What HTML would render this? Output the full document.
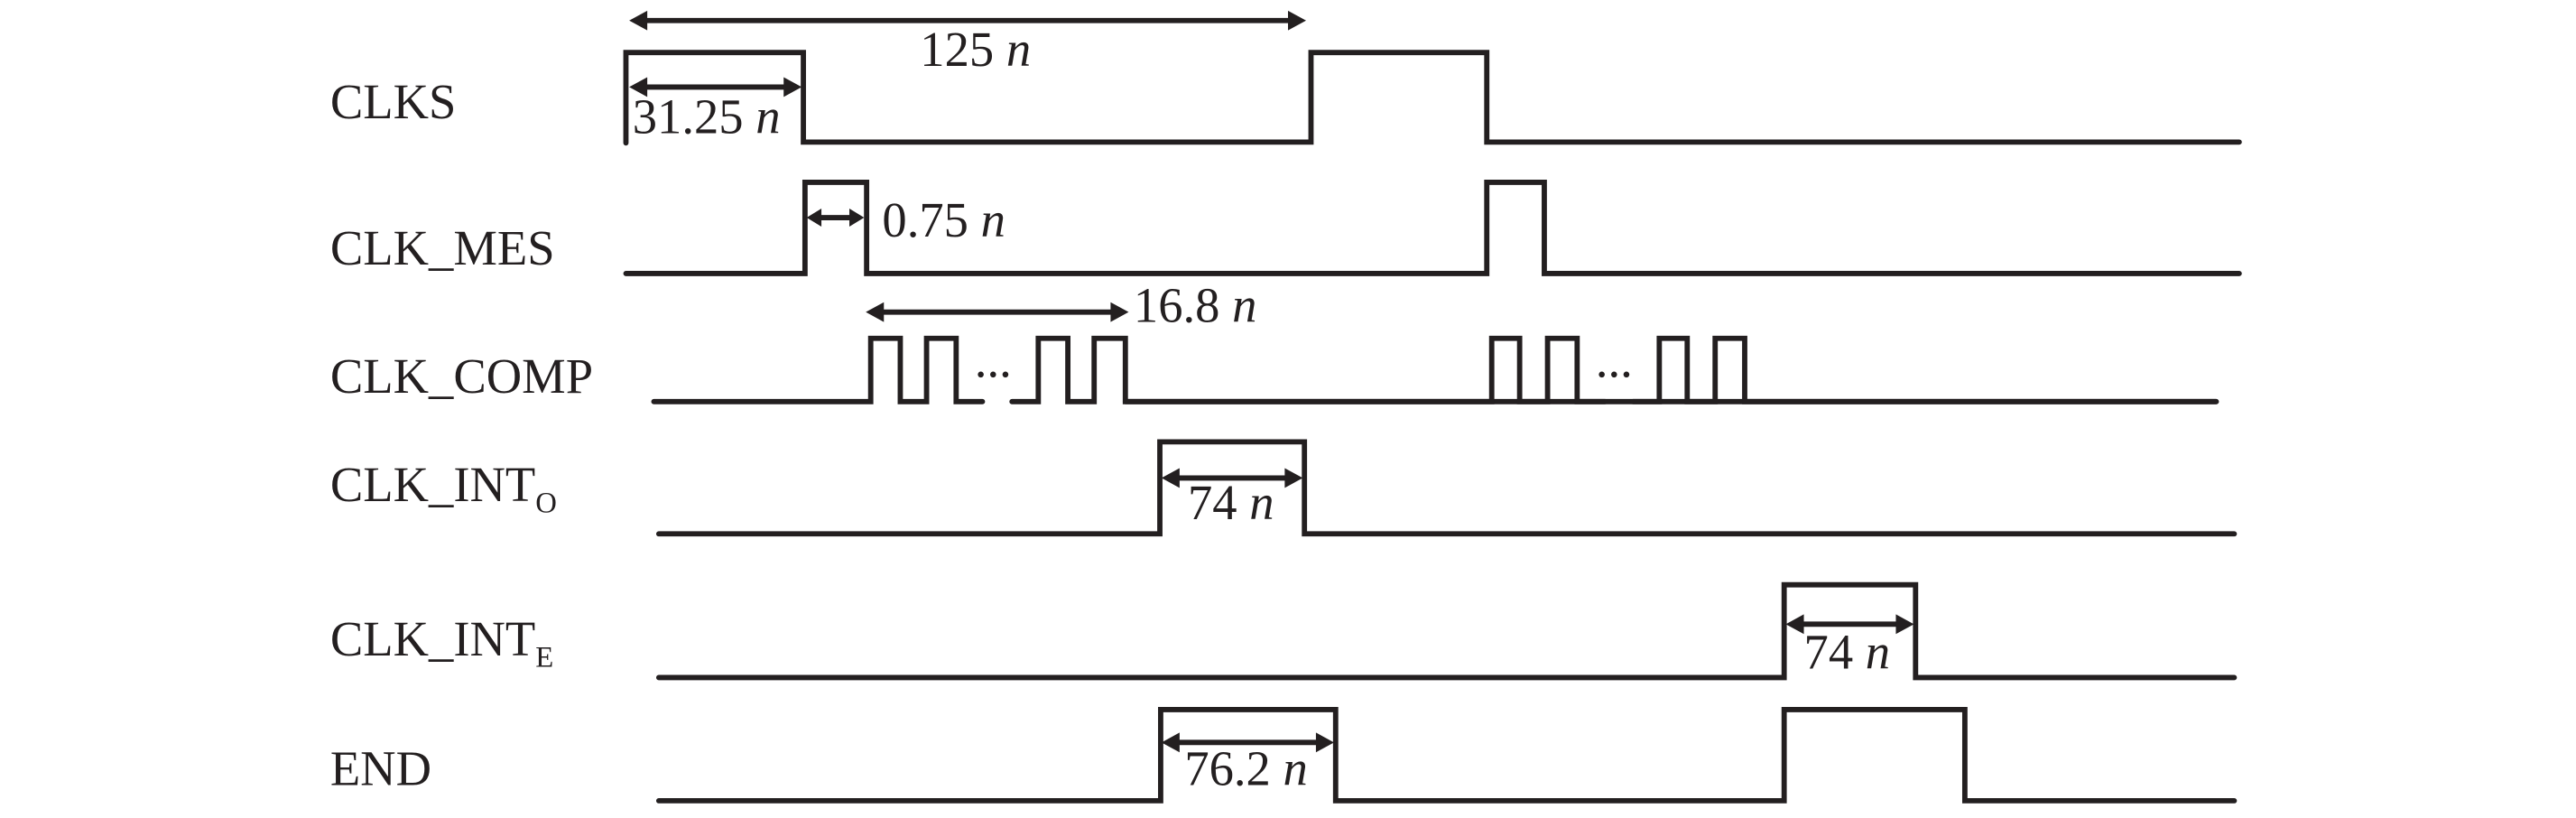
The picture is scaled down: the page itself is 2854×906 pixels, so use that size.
<!DOCTYPE html>
<html><head><meta charset="utf-8"><style>
html,body{margin:0;padding:0;background:#fff;}
svg{display:block;}
text{font-family:"Liberation Serif",serif;font-size:30px;fill:#231f20;}
.i{font-style:italic;}
</style></head><body>
<svg width="2854" height="906" viewBox="0 0 1568 498" preserveAspectRatio="none" xmlns="http://www.w3.org/2000/svg">
<g fill="none" stroke="#231f20" stroke-width="3.2" stroke-linejoin="miter" stroke-linecap="round">
<polyline points="381,87 381,32 489,32 489,86.5 798,86.5 798,32 905,32 905,86.5 1363,86.5"/>
<polyline points="381,166.5 490,166.5 490,111 527.5,111 527.5,166.5 905,166.5 905,111 940,111 940,166.5 1363,166.5"/>
<polyline points="398,244.5 530,244.5 530,206 548,206 548,244.5 564,244.5 564,206 582,206 582,244.5 598,244.5"/>
<polyline points="616,244.5 632,244.5 632,206 650,206 650,244.5 666,244.5 666,206 685,206 685,244.5 1349,244.5"/>
<polyline points="685,244.5 908,244.5 908,206 925,206 925,244.5 942,244.5 942,206 960,206 960,244.5 977,244.5"/>
<polyline points="994,244.5 1010,244.5 1010,206 1027,206 1027,244.5 1044,244.5 1044,206 1062,206 1062,244.5 1349,244.5"/>
<polyline points="401,325 706,325 706,269 794,269 794,325 1360,325"/>
<polyline points="401,412.5 1086,412.5 1086,356 1166,356 1166,412.5 1360,412.5"/>
<polyline points="401,487.5 706.5,487.5 706.5,432 813,432 813,487.5 1086,487.5 1086,432 1196,432 1196,487.5 1360,487.5"/>
<line x1="390" y1="12.5" x2="786" y2="12.5"/>
<line x1="390" y1="53" x2="480" y2="53"/>
<line x1="498" y1="132.5" x2="520" y2="132.5"/>
<line x1="536" y1="190" x2="678" y2="190"/>
<line x1="714" y1="291" x2="786" y2="291"/>
<line x1="1094" y1="380" x2="1158" y2="380"/>
<line x1="714" y1="452" x2="805" y2="452"/>
</g>
<g fill="#231f20">
<polygon points="383,12.5 394,6.5 394,18.5"/><polygon points="795,12.5 784,6.5 784,18.5"/>
<polygon points="383,53 394,47 394,59"/><polygon points="488,53 477,47 477,59"/>
<polygon points="491,132.5 500,127 500,138"/><polygon points="526,132.5 517,127 517,138"/>
<polygon points="527,190 538,184 538,196"/><polygon points="687,190 676,184 676,196"/>
<polygon points="707,291 718,285 718,297"/><polygon points="793,291 782,285 782,297"/>
<polygon points="1087,380 1098,374 1098,386"/><polygon points="1165,380 1154,374 1154,386"/>
<polygon points="707,452 718,446 718,458"/><polygon points="812,452 801,446 801,458"/>
<circle cx="597" cy="228" r="1.8"/><circle cx="604.5" cy="228" r="1.8"/><circle cx="612" cy="228" r="1.8"/>
<circle cx="975" cy="228" r="1.8"/><circle cx="982.5" cy="228" r="1.8"/><circle cx="990" cy="228" r="1.8"/>
</g>
<text x="201" y="72">CLKS</text>
<text x="201" y="161">CLK_MES</text>
<text x="201" y="239">CLK_COMP</text>
<text x="201" y="305">CLK_INT<tspan font-size="18" dy="7">O</tspan></text>
<text x="201" y="399">CLK_INT<tspan font-size="18" dy="7">E</tspan></text>
<text x="201" y="478">END</text>
<text x="560" y="40">125 <tspan class="i">n</tspan></text>
<text x="385" y="81">31.25 <tspan class="i">n</tspan></text>
<text x="537" y="144">0.75 <tspan class="i">n</tspan></text>
<text x="690" y="196">16.8 <tspan class="i">n</tspan></text>
<text x="723" y="316">74 <tspan class="i">n</tspan></text>
<text x="1098" y="407">74 <tspan class="i">n</tspan></text>
<text x="721" y="478">76.2 <tspan class="i">n</tspan></text>
</svg>
</body></html>
